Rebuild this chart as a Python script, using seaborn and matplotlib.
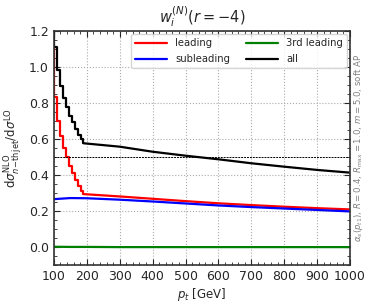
import matplotlib
matplotlib.use("Agg")
import matplotlib.pyplot as plt
import matplotlib.ticker as ticker
import numpy as np
import pandas as pd
import seaborn as sns

# low-pt region is binned (steps), above ~190 GeV the curves are smooth
step_edges = [91, 100, 109, 118, 127, 136, 145, 154, 163, 172, 181, 190]
leading_step = [1.11, 0.837, 0.703, 0.618, 0.550, 0.500, 0.453, 0.411, 0.374, 0.341, 0.314, 0.296]
all_step = [1.30, 1.114, 0.985, 0.896, 0.831, 0.778, 0.731, 0.694, 0.659, 0.624, 0.600, 0.578]

pt_smooth = [190, 300, 400, 500, 600, 700, 800, 900, 1000]
leading_smooth = [0.296, 0.283, 0.270, 0.257, 0.245, 0.235, 0.226, 0.218, 0.211]
all_smooth = [0.578, 0.559, 0.531, 0.509, 0.489, 0.467, 0.448, 0.430, 0.415]

pt_sub = [100, 150, 200, 300, 400, 500, 600, 700, 800, 900, 1000]
subleading = [0.268, 0.274, 0.273, 0.265, 0.255, 0.244, 0.233, 0.224, 0.216, 0.208, 0.200]
third = [0.004, 0.003, 0.003, 0.002, 0.002, 0.002, 0.002, 0.002, 0.002, 0.002, 0.002]

sns.set_style("ticks")
plt.rcParams["font.family"] = ["DejaVu Sans"]
plt.rcParams["mathtext.fontset"] = "dejavusans"

fig = plt.figure(figsize=(3.74, 3.08), dpi=100)
ax = fig.add_axes([0.144, 0.138, 0.792, 0.761])

lw = 1.6
sns.lineplot(x=step_edges, y=leading_step, ax=ax, color="red", lw=lw, drawstyle="steps-post")
sns.lineplot(x=pt_smooth, y=leading_smooth, ax=ax, color="red", lw=lw, label="leading")
sns.lineplot(x=pt_sub, y=subleading, ax=ax, color="blue", lw=lw, label="subleading")
sns.lineplot(x=pt_sub, y=third, ax=ax, color="green", lw=lw, label="3rd leading")
sns.lineplot(x=step_edges, y=all_step, ax=ax, color="black", lw=lw, drawstyle="steps-post")
sns.lineplot(x=pt_smooth, y=all_smooth, ax=ax, color="black", lw=lw, label="all")

ax.axhline(0.5, color="black", lw=0.7, ls=(0, (2, 1)))

ax.set_xlim(100, 1000)
ax.set_ylim(-0.1, 1.2)
ax.xaxis.set_major_locator(ticker.MultipleLocator(100))
ax.xaxis.set_minor_locator(ticker.MultipleLocator(20))
ax.yaxis.set_major_locator(ticker.MultipleLocator(0.2))
ax.yaxis.set_minor_locator(ticker.MultipleLocator(0.05))
ax.tick_params(which="both", direction="in", top=True, right=True, labelsize=9)
ax.tick_params(which="major", length=4)
ax.tick_params(which="minor", length=2)
ax.grid(True, which="major", ls=":", color="#aaaaaa", lw=0.8)
for s in ax.spines.values():
    s.set_color("#333333")
    s.set_linewidth(1.2)

ax.set_title(r"$w_i^{(N)}(r=-4)$", fontsize=10.5)
ax.set_xlabel(r"$p_t$ [GeV]", fontsize=8.5, labelpad=2)
ax.set_ylabel(r"$\mathrm{d}\sigma^{\mathrm{NLO}}_{n\mathrm{-th\,jet}}/\mathrm{d}\sigma^{\mathrm{LO}}$",
              fontsize=8.5, labelpad=3)

ax.legend(loc="upper right", ncol=2, fontsize=7.2, handlelength=3.2,
          columnspacing=1.6, borderaxespad=0.3, labelspacing=0.6, frameon=True)

fig.text(0.958, 0.52, r"$\alpha_s(p_{t1})$, $R=0.4$, $R_{\max}=1.0$, $m=5.0$, soft AP",
         rotation=90, fontsize=6.2, color="gray", ha="center", va="center")

fig.savefig("out.png", dpi=100)
